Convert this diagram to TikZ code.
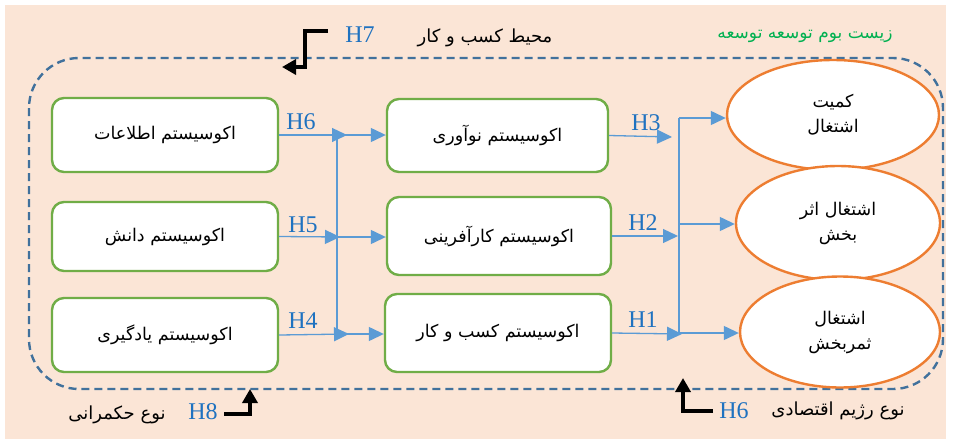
\documentclass[tikz,border=0pt]{standalone}
\usepackage{fontspec}
\setmainfont{Liberation Serif}
\newfontfamily\fa[Script=Arabic]{DejaVu Sans}
\TeXXeTstate=1
\usetikzlibrary{arrows.meta,shapes.geometric}
\definecolor{bgpeach}{HTML}{FBE5D6}
\definecolor{boxgreen}{HTML}{70AD47}
\definecolor{ellorange}{HTML}{ED7D31}
\definecolor{connblue}{HTML}{5B9BD5}
\definecolor{dashblue}{HTML}{41719C}
\definecolor{hblue}{HTML}{1F72C0}
\definecolor{txtgreen}{HTML}{00B050}
\tikzset{
  ecobox/.style={draw=boxgreen, line width=2.4pt, fill=white, rounded corners=12pt,
    inner sep=0pt, font=\fa\fontsize{17.5}{21}\selectfont},
  outell/.style={ellipse, draw=ellorange, line width=2.4pt, fill=white, inner sep=0pt,
    align=center, font=\fa\fontsize{17.5}{25}\selectfont},
  conn/.style={draw=connblue, line width=1.3pt},
  connarr/.style={conn, -{Triangle[length=15pt,width=14pt]}},
  hlab/.style={text=hblue, font=\fontsize{24}{26}\selectfont, inner sep=0pt},
  falab/.style={font=\fa\fontsize{18}{21}\selectfont, inner sep=0pt},
  bentarr/.style={draw=black, line width=3.8pt, -{Triangle[length=14pt,width=15pt]}},
}
\begin{document}
\begin{tikzpicture}[x=1pt,y=-1pt]
\useasboundingbox (0,0) rectangle (955,439);
\fill[bgpeach] (5,5) rectangle (946,439);
% outer dashed frame
\draw[dashblue, line width=2.4pt, dash pattern=on 8pt off 5pt, rounded corners=50pt]
  (29,58) rectangle (943,389);

% left boxes
\node[ecobox, minimum width=226pt, minimum height=74pt] (L1) at (165,135) {\beginR اکوسیستم اطلاعات\endR};
\node[ecobox, minimum width=226pt, minimum height=69pt] (L2) at (165,236.5) {\beginR اکوسیستم دانش\endR};
\node[ecobox, minimum width=226pt, minimum height=74pt] (L3) at (165,335) {\beginR اکوسیستم  یادگیری\endR};
% middle boxes
\node[ecobox, minimum width=221pt, minimum height=73pt] (M1) at (497.5,135.5) {\beginR اکوسیستم نوآوری\endR};
\node[ecobox, minimum width=224pt, minimum height=78pt] (M2) at (499,236) {\beginR اکوسیستم کارآفرینی\endR};
\node[ecobox, minimum width=226pt, minimum height=78pt] (M3) at (498,333) {\beginR اکوسیستم کسب و کار\endR};
% ellipses
\node[outell, minimum width=212pt, minimum height=110pt] (E1) at (833,115) {\beginR کمیت\endR\\\beginR اشتغال\endR};
\node[outell, minimum width=204pt, minimum height=114pt] (E2) at (838,223) {\beginR اشتغال اثر\endR\\\beginR بخش\endR};
\node[outell, minimum width=200pt, minimum height=111pt] (E3) at (840,332) {\beginR اشتغال\endR\\\beginR ثمربخش\endR};

% junction coordinates
\coordinate (TL1) at (347,135);
\coordinate (TL2) at (340,237);
\coordinate (TL3) at (349,334);
\coordinate (VA) at (337,135);
\coordinate (VB) at (337,237);
\coordinate (VC) at (337,334);
\coordinate (TM1) at (672,137);
\coordinate (TM2) at (678,236);
\coordinate (TM3) at (682,334);
\coordinate (RA) at (679,118);
\coordinate (RB) at (679,224);
\coordinate (RC) at (679,333);

% left to junction
\draw[connarr] (L1.east) -- (TL1);
\draw[connarr] (L2.east) -- (TL2);
\draw[connarr] (L3.east) -- (TL3);
\draw[conn] (VA) -- (VC);
\draw[connarr] (VA) -- (VA -| M1.west);
\draw[connarr] (VB) -- (VB -| M2.west);
\draw[connarr] (VC) -- (VC -| M3.west);
% middle to right
\draw[connarr] (M1.east) -- (TM1);
\draw[connarr] (M2.east) -- (TM2);
\draw[connarr] (M3.east) -- (TM3);
\draw[conn] (RA) -- (RC);
\draw[connarr] (RA) -- (RA -| E1.west);
\draw[connarr] (RB) -- (RB -| E2.west);
\draw[connarr] (RC) -- (RC -| E3.west);

% hypothesis labels
\node[hlab] (h6a) at (301,122) {H6};
\node[hlab] (h5) at (303,225) {H5};
\node[hlab] (h4) at (303,321) {H4};
\node[hlab] (h3) at (646,123) {H3};
\node[hlab] (h2) at (643,223) {H2};
\node[hlab] (h1) at (643,320) {H1};

% top labels
\node[hlab] (h7) at (360,35) {H7};
\node[falab] (env) at (485,38) {\beginR محیط کسب و کار\endR};
\node[falab, text=txtgreen, font=\fa\fontsize{17}{21}\selectfont] (eco) at (805,36) {\beginR زیست بوم توسعه توسعه\endR};
\coordinate (A7s) at (328,31);
\coordinate (A7t) at (282,67);
\draw[bentarr] (A7s) -- (305,31) -- (305,67) -- (A7t);

% bottom labels
\node[hlab] (h8) at (203,412) {H8};
\node[falab] (gov) at (117,415) {\beginR نوع حکمرانی\endR};
\coordinate (A8s) at (224,414);
\coordinate (A8t) at (250,389);
\draw[bentarr] (A8s) -- (250,414) -- (A8t);

\node[hlab] (h6b) at (734,411) {H6};
\node[falab] (reg) at (838,411) {\beginR نوع رژیم اقتصادی\endR};
\coordinate (A6s) at (713,411);
\coordinate (A6t) at (683,378);
\draw[bentarr] (A6s) -- (683,411) -- (A6t);
\end{tikzpicture}
\end{document}
